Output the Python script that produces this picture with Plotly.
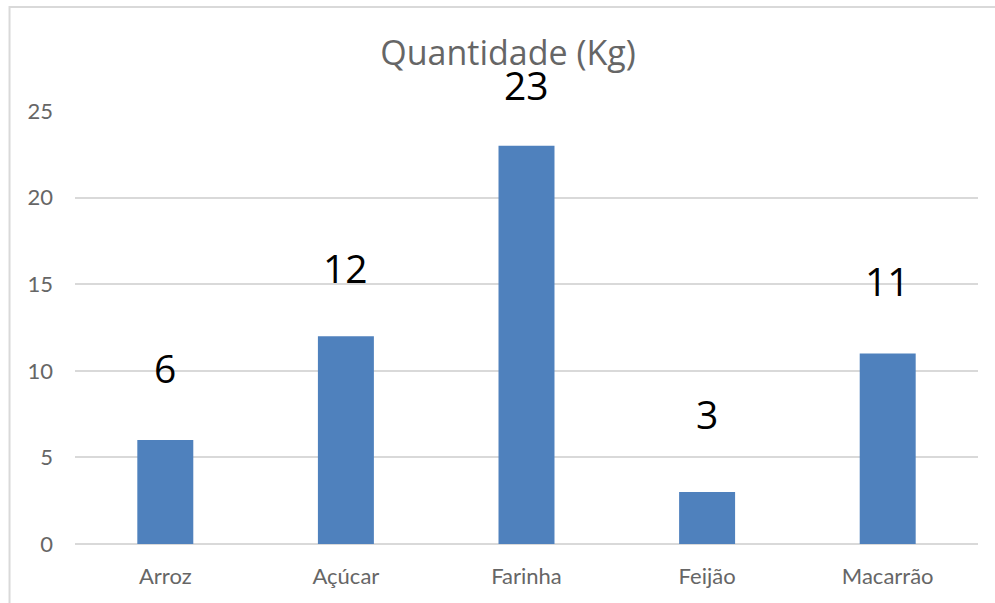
import plotly.graph_objects as go

# Quantities per food item (kg)
categories = ["Arroz", "Açúcar", "Farinha", "Feijão", "Macarrão"]
quantities = [6, 12, 23, 3, 11]
y_ticks = [0, 5, 10, 15, 20, 25]

# vertical lift (px) of each value label above its bar
label_lift = [73, 69, 61, 79, 73]

BAR = "#4f81bd"
GRID = "#d9d9d9"
TICK = "#666666"

fig = go.Figure()
fig.add_trace(go.Bar(
    x=categories,
    y=quantities,
    marker=dict(color=BAR, line=dict(width=0)),
    hoverinfo="x+y",
))

for cat, val, lift in zip(categories, quantities, label_lift):
    fig.add_annotation(
        x=cat, y=val, text=str(val), showarrow=False,
        yshift=lift, yanchor="middle",
        font=dict(family="Open Sans", size=39, color="#000000"),
    )

# chart frame (only the top and left edges fall inside the page)
fig.add_shape(
    type="rect", xref="paper", yref="paper",
    x0=-0.0725, x1=1.2, y0=-0.3, y1=1.240,
    line=dict(color=GRID, width=2), fillcolor="rgba(0,0,0,0)", layer="below",
)

fig.update_layout(
    width=995, height=603,
    margin=dict(l=75, r=17, t=111, b=59),
    paper_bgcolor="white", plot_bgcolor="white",
    showlegend=False,
    bargap=0.69,
    title=dict(
        text="Quantidade (Kg)", x=0.5106, xanchor="center",
        y=0.912, yanchor="middle", yref="container",
        font=dict(family="Open Sans", size=34, color="#666666"),
    ),
    xaxis=dict(
        showgrid=False, showline=False, zeroline=False, ticks="",
        ticklabelstandoff=17,
        tickfont=dict(family="Lato", size=22, color=TICK),
    ),
    yaxis=dict(
        range=[0, 25], tickvals=y_ticks, showgrid=True, gridcolor=GRID,
        gridwidth=1.5, zeroline=True, zerolinecolor=GRID, zerolinewidth=1.5,
        showline=False, ticks="", ticklabelstandoff=21,
        tickfont=dict(family="Lato", size=22, color=TICK),
    ),
)

fig.write_html("out.html")
